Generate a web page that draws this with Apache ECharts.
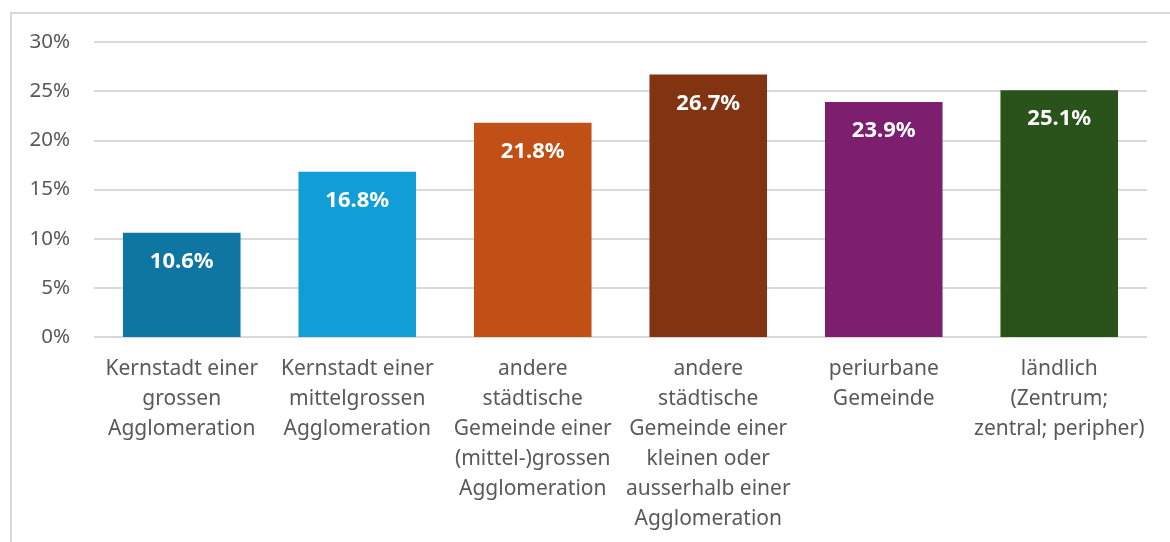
<!DOCTYPE html>
<html>
<head>
<meta charset="utf-8">
<script src="https://cdn.jsdelivr.net/npm/echarts@6/dist/echarts.min.js"></script>
<style>
  html, body { margin: 0; padding: 0; background: #fff; }
  #wrap { position: relative; width: 1170px; height: 542px; }
  #frame { position: absolute; left: 10px; top: 12px; right: 0; bottom: 0;
           border-top: 2px solid #d9d9d9; border-left: 2px solid #d9d9d9; }
  #chart { position: absolute; left: 0; top: 0; width: 1170px; height: 542px; }
</style>
</head>
<body>
<div id="wrap">
  <div id="frame"></div>
  <div id="chart"></div>
</div>
<script>
// Kategorien (Zeilenumbrüche wie im Original)
var categories = [
  'Kernstadt einer\ngrossen\nAgglomeration',
  'Kernstadt einer\nmittelgrossen\nAgglomeration',
  'andere\nstädtische\nGemeinde einer\n(mittel-)grossen\nAgglomeration',
  'andere\nstädtische\nGemeinde einer\nkleinen oder\nausserhalb einer\nAgglomeration',
  'periurbane\nGemeinde',
  'ländlich\n(Zentrum;\nzentral; peripher)'
];
// Anteile in %
var values = [10.6, 16.8, 21.8, 26.7, 23.9, 25.1];
var barColors = ['#0e76a0', '#119ed6', '#c05016', '#823311', '#7b1f6e', '#2a531b'];
var yTicks = [0, 5, 10, 15, 20, 25, 30];

var font = '"Noto Sans", sans-serif';

var myChart = echarts.init(document.getElementById('chart'), null, { renderer: 'canvas' });
var option = {
  animation: false,
  grid: {
    left: 94,
    right: 23,
    top: 42,
    bottom: 205
  },
  xAxis: {
    type: 'category',
    data: categories,
    axisLine: { show: false },
    axisTick: { show: false },
    axisLabel: {
      interval: 0,
      margin: 17,
      color: '#595959',
      fontFamily: font,
      fontSize: 21,
      lineHeight: 30,
      align: 'center'
    }
  },
  yAxis: {
    type: 'value',
    min: yTicks[0],
    max: yTicks[yTicks.length - 1],
    interval: 5,
    axisLine: { show: false },
    axisTick: { show: false },
    splitLine: { lineStyle: { color: '#d9d9d9', width: 2 } },
    axisLabel: {
      margin: 24,
      color: '#595959',
      fontFamily: font,
      fontSize: 20.5,
      formatter: '{value}%'
    }
  },
  series: [
    {
      type: 'bar',
      barWidth: '67%',
      data: values.map(function (v, i) {
        return { value: v, itemStyle: { color: barColors[i] } };
      }),
      label: {
        show: true,
        position: 'insideTop',
        distance: 18,
        color: '#fff',
        fontFamily: font,
        fontWeight: 'bold',
        fontSize: 22,
        formatter: function (p) { return p.value.toFixed(1) + '%'; }
      }
    }
  ]
};
myChart.setOption(option);
</script>
</body>
</html>
